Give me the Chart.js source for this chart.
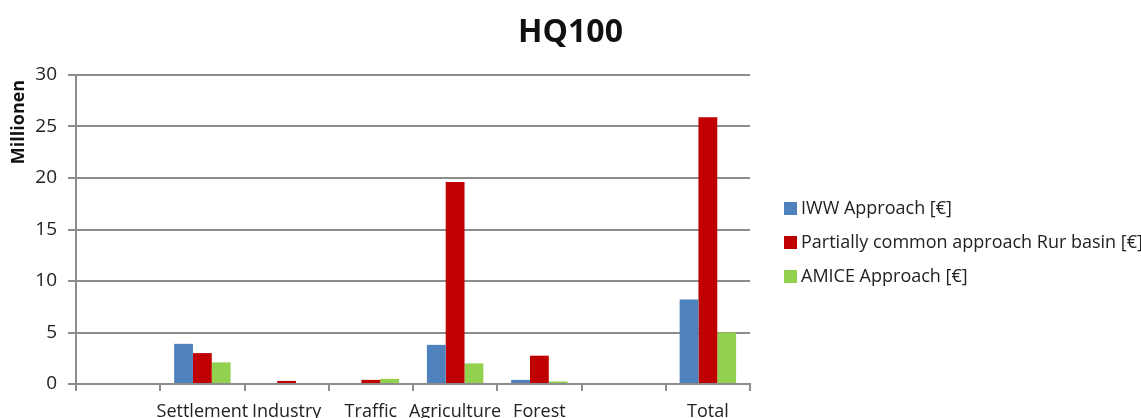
<!DOCTYPE html>
<html>
<head>
<meta charset="utf-8">
<title>HQ100</title>
<script src="https://cdn.jsdelivr.net/npm/chart.js@4.4.1/dist/chart.umd.min.js"></script>
<style>
  html, body { margin: 0; padding: 0; background: #ffffff; }
  #wrap { width: 1141px; height: 418px; position: relative; }
</style>
</head>
<body>
<div id="wrap"><canvas id="chart" width="1141" height="418"></canvas></div>
<script>
// Damage categories (empty slots keep the gaps left and before "Total")
const categories = ['', 'Settlement', 'Industry', 'Traffic', 'Agriculture', 'Forest', '', 'Total'];

// Damage values in millions of euros
const iwwApproach      = [0, 3.9, 0.1, 0.0, 3.8, 0.4, 0, 8.2];
const rurBasinApproach = [0, 3.0, 0.3, 0.4, 19.6, 2.75, 0, 25.9];
const amiceApproach    = [0, 2.1, 0.0, 0.5, 2.0, 0.25, 0, 5.0];

const seriesNames = [
  'IWW Approach [€]',
  'Partially common approach Rur basin [€]',
  'AMICE Approach [€]'
];

const yTicks = [0, 5, 10, 15, 20, 25, 30];

const chartTitle = 'HQ100';
const unitLabel = 'Millionen';

const FONT = "'Open Sans', 'Liberation Sans', sans-serif";
const GRID = '#8c8c8c';

// Page title centred over the whole canvas, the unit label beside the
// value axis, and the legend in the right-hand margin.
const decorations = {
  id: 'decorations',
  afterDraw(chart) {
    const ctx = chart.ctx;
    ctx.save();

    ctx.fillStyle = '#111111';
    ctx.font = "bold 32px " + FONT;
    ctx.textAlign = 'center';
    ctx.textBaseline = 'middle';
    ctx.fillText(chartTitle, chart.width / 2, 33);

    ctx.save();
    ctx.translate(19, 122);
    ctx.rotate(-Math.PI / 2);
    ctx.font = "bold 18px " + FONT;
    ctx.fillText(unitLabel, 0, 0);
    ctx.restore();

    const x = chart.chartArea.right + 34;
    const rowGap = 34;
    const y0 = 208;
    ctx.font = "18px " + FONT;
    ctx.textAlign = 'left';
    chart.data.datasets.forEach((ds, i) => {
      const y = y0 + i * rowGap;
      ctx.fillStyle = ds.backgroundColor;
      ctx.fillRect(x, y - 6, 13, 13);
      ctx.fillStyle = '#222222';
      ctx.fillText(ds.label, x + 17, y + 1);
    });
    ctx.restore();
  }
};

new Chart(document.getElementById('chart'), {
  type: 'bar',
  data: {
    labels: categories,
    datasets: [
      { label: seriesNames[0], data: iwwApproach, backgroundColor: '#4f81bd' },
      { label: seriesNames[1], data: rurBasinApproach, backgroundColor: '#c00000' },
      { label: seriesNames[2], data: amiceApproach, backgroundColor: '#92d050' }
    ]
  },
  plugins: [decorations],
  options: {
    responsive: false,
    animation: false,
    layout: { padding: { left: 0, right: 391, top: 75, bottom: 0 } },
    datasets: { bar: { categoryPercentage: 0.67, barPercentage: 1.0 } },
    plugins: {
      title: { display: false },
      legend: { display: false },
      tooltip: { enabled: false }
    },
    scales: {
      x: {
        grid: {
          offset: true,
          drawOnChartArea: false,
          drawTicks: true,
          tickLength: 7,
          color: GRID,
          lineWidth: 2
        },
        border: { color: GRID, width: 2 },
        ticks: {
          color: '#222222',
          font: { family: FONT, size: 18 },
          maxRotation: 0,
          autoSkip: false,
          padding: 10
        },
        afterFit: (scale) => { scale.height = 34; }
      },
      y: {
        min: 0,
        max: 30,
        afterBuildTicks: (scale) => { scale.ticks = yTicks.map(v => ({ value: v })); },
        grid: { color: GRID, lineWidth: 2, tickLength: 8 },
        border: { color: GRID, width: 2 },
        ticks: {
          color: '#222222',
          font: { family: FONT, size: 19 },
          padding: 11
        },
        afterFit: (scale) => { scale.width = 76; }
      }
    }
  }
});
</script>
</body>
</html>
